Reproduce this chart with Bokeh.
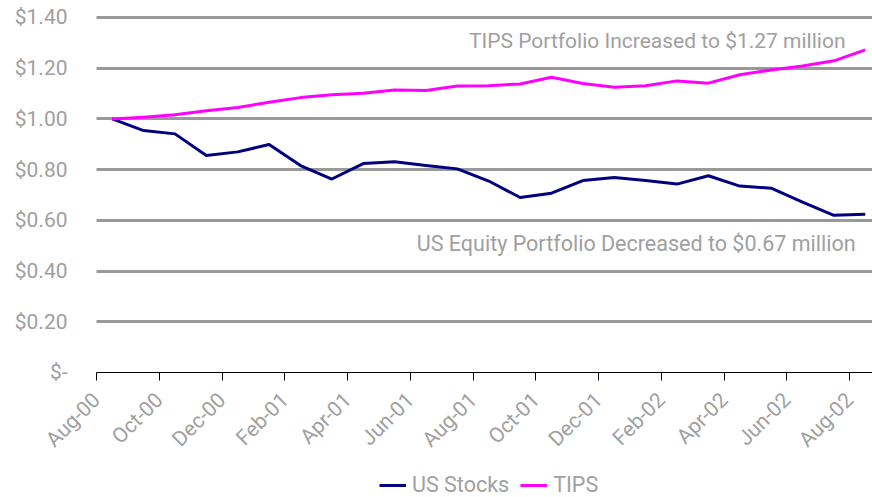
import math
from bokeh.plotting import figure
from bokeh.models import FixedTicker, Range1d, Label, Legend, LegendItem, NumeralTickFormatter
from bokeh.embed import file_html
from bokeh.resources import INLINE

months = ["Aug-00", "Sep-00", "Oct-00", "Nov-00", "Dec-00", "Jan-01", "Feb-01",
          "Mar-01", "Apr-01", "May-01", "Jun-01", "Jul-01", "Aug-01", "Sep-01",
          "Oct-01", "Nov-01", "Dec-01", "Jan-02", "Feb-02", "Mar-02", "Apr-02",
          "May-02", "Jun-02", "Jul-02", "Aug-02"]

us_stocks = [1.00, 0.954, 0.941, 0.856, 0.870, 0.899, 0.816, 0.763, 0.824, 0.831,
             0.816, 0.803, 0.755, 0.690, 0.707, 0.757, 0.769, 0.757, 0.743, 0.776,
             0.735, 0.727, 0.672, 0.620, 0.624]

tips = [1.00, 1.007, 1.016, 1.032, 1.045, 1.066, 1.084, 1.095, 1.101, 1.114,
        1.112, 1.130, 1.131, 1.138, 1.164, 1.140, 1.125, 1.131, 1.150, 1.141,
        1.174, 1.193, 1.209, 1.229, 1.272]

y_ticks = [0, 0.2, 0.4, 0.6, 0.8, 1.0, 1.2, 1.4]
tips_note = "TIPS Portfolio Increased to $1.27 million"
equity_note = "US Equity Portfolio Decreased to $0.67 million"

FONT = "Roboto"
GRAY = "#a0a0a0"

x = list(range(len(months)))
X0, X1 = -0.5, 24.23   # plotted category span

# the frame covers the whole canvas; both axes are pinned inside it so that
# the rotated labels and the legend are not clipped
p = figure(width=872, height=497, output_backend="svg", toolbar_location=None,
           x_range=Range1d(-3.56, X1), y_range=Range1d(-0.493, 1.467),
           min_border_left=0, min_border_right=0, min_border_top=0,
           min_border_bottom=0)
p.outline_line_color = None
p.background_fill_color = "white"
p.border_fill_color = "white"

p.xgrid.visible = False
p.ygrid.ticker = FixedTicker(ticks=y_ticks[1:])
p.ygrid.grid_line_color = "#999999"
p.ygrid.grid_line_width = 3
p.ygrid.cross_bounds = (X0, X1)

r1 = p.line(x, us_stocks, line_color="#000080", line_width=3, line_join="round")
r2 = p.line(x, tips, line_color="#ff00ff", line_width=3, line_join="round")

# y axis
p.yaxis.fixed_location = X0
p.yaxis.ticker = FixedTicker(ticks=y_ticks)
p.yaxis.formatter = NumeralTickFormatter(format="$0.00")
p.yaxis.major_label_overrides = {0: "$-"}
p.yaxis.axis_line_color = None
p.yaxis.major_tick_line_color = None
p.yaxis.minor_tick_line_color = None
p.yaxis.major_tick_out = 0
p.yaxis.major_tick_in = 0
p.yaxis.major_label_standoff = 29
p.yaxis.major_label_text_font = FONT
p.yaxis.major_label_text_font_size = "21px"
p.yaxis.major_label_text_color = GRAY

# x axis
xt = [i - 0.5 for i in range(0, len(months), 2)]
p.xaxis.fixed_location = 0
p.xaxis.bounds = (X0, X1)
p.xaxis.ticker = FixedTicker(ticks=xt)
p.xaxis.major_label_overrides = {i - 0.5: months[i] for i in range(0, len(months), 2)}
p.xaxis.axis_line_color = "black"
p.xaxis.axis_line_width = 1
p.xaxis.major_tick_line_color = "black"
p.xaxis.major_tick_out = 8
p.xaxis.major_tick_in = 0
p.xaxis.minor_tick_line_color = None
p.xaxis.major_label_orientation = math.pi / 4
p.xaxis.major_label_standoff = 16
p.xaxis.major_label_text_font = FONT
p.xaxis.major_label_text_font_size = "21px"
p.xaxis.major_label_text_color = GRAY

p.add_layout(Label(x=23.37, y=1.306, text=tips_note, text_align="right",
                   text_baseline="middle", text_font=FONT, text_font_size="21px",
                   text_color=GRAY))
p.add_layout(Label(x=23.69, y=0.507, text=equity_note, text_align="right",
                   text_baseline="middle", text_font=FONT, text_font_size="21.5px",
                   text_color=GRAY))

legend = Legend(items=[LegendItem(label="US Stocks", renderers=[r1]),
                       LegendItem(label="TIPS", renderers=[r2])],
                orientation="horizontal", location=(379, 0),
                border_line_color=None, background_fill_alpha=0,
                label_text_font=FONT, label_text_font_size="21.5px",
                label_text_color=GRAY, glyph_width=27, glyph_height=20,
                spacing=11, label_standoff=6, padding=0, margin=0)
p.add_layout(legend)

open("out.html", "w").write(file_html(p, INLINE))
